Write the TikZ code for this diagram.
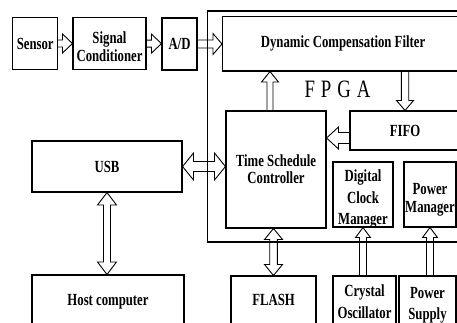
\documentclass[tikz,border=0pt]{standalone}
\usepackage{fontspec}
\setmainfont{Liberation Serif}[FakeStretch=0.75]
\usetikzlibrary{calc}

\tikzset{
  % half widths and head length of the hollow block arrows
  shaftw/.code={\def\hsw{#1}},
  headw/.code={\def\hhw{#1}},
  headl/.code={\def\hhl{#1}},
  frame/.style={draw, line width=1.05pt, inner sep=0pt},
  boxtext/.style={inner sep=0pt, align=center,
    font=\bfseries\fontsize{17}{18}\selectfont},
  % hollow arrow, one head at the target
  blockarrow/.style={draw, line width=0.9pt, line join=miter,
    to path={let \p1=(\tikztostart), \p2=(\tikztotarget),
      \n1={atan2(\y2-\y1,\x2-\x1)} in
      ($(\p1)+(\n1+90:\hsw)$)
      -- ($(\p2)+(\n1+180:\hhl)+(\n1+90:\hsw)$)
      -- ($(\p2)+(\n1+180:\hhl)+(\n1+90:\hhw)$)
      -- (\p2)
      -- ($(\p2)+(\n1+180:\hhl)+(\n1-90:\hhw)$)
      -- ($(\p2)+(\n1+180:\hhl)+(\n1-90:\hsw)$)
      -- ($(\p1)+(\n1-90:\hsw)$)}},
  % hollow arrow, heads at both ends
  dblockarrow/.style={draw, line width=0.9pt, line join=miter,
    to path={let \p1=(\tikztostart), \p2=(\tikztotarget),
      \n1={atan2(\y2-\y1,\x2-\x1)} in
      ($(\p1)+(\n1:\hhl)+(\n1+90:\hsw)$)
      -- ($(\p2)+(\n1+180:\hhl)+(\n1+90:\hsw)$)
      -- ($(\p2)+(\n1+180:\hhl)+(\n1+90:\hhw)$)
      -- (\p2)
      -- ($(\p2)+(\n1+180:\hhl)+(\n1-90:\hhw)$)
      -- ($(\p2)+(\n1+180:\hhl)+(\n1-90:\hsw)$)
      -- ($(\p1)+(\n1:\hhl)+(\n1-90:\hsw)$)
      -- ($(\p1)+(\n1:\hhl)+(\n1-90:\hhw)$)
      -- (\p1)
      -- ($(\p1)+(\n1:\hhl)+(\n1+90:\hhw)$)
      -- cycle}},
}

% \blockbox[text options]{name}{x1}{y1}{x2}{y2}{text drop}{text}
\newcommand\blockbox[8][]{%
  \node[frame, minimum width={(#5-#3)*1pt}, minimum height={(#6-#4)*1pt}]
    (#2) at ({(#3+#5)/2},{(#4+#6)/2}) {};
  \node[boxtext, #1] (#2-text) at ([yshift=-#7pt]#2.center) {#8};}

\begin{document}
\begin{tikzpicture}[x=1pt, y=-1pt, shaftw=3.5pt, headw=9.5pt, headl=10pt]
\useasboundingbox (0,0) rectangle (457,322);
\clip (0,0) rectangle (457,322);

% FPGA outline and its title
\node[frame, minimum width=267.5pt, minimum height=231pt] (fpga) at (341.25,126.5) {};
\node[font=\fontsize{25}{25}\selectfont, anchor=base] (fpgalabel) at (337.5,97)
  {F\hskip6pt P\hskip6pt G\hskip6pt A};

% signal chain
\blockbox{sensor}{12.7}{17.7}{57.7}{69.3}{0}{Sensor}
\blockbox{sc}{73}{17.6}{146}{69.6}{3}{Signal\\Conditioner}
\blockbox{ad}{162}{18}{197}{70}{0}{A/D}

% inside the FPGA
\blockbox{dcf}{222.5}{16.7}{463.5}{71}{0}{Dynamic Compensation Filter}
\blockbox[font=\bfseries\fontsize{17}{17}\selectfont]{tsc}{226}{111}{326}{228}{0}{Time Schedule\\Controller}
\blockbox{fifo}{350}{111}{460}{150}{0}{FIFO}
\blockbox[font=\bfseries\fontsize{17}{21.5}\selectfont]{dcm}{333}{162}{393}{227}{4.5}{Digital\\Clock\\Manager}
\blockbox[font=\bfseries\fontsize{17}{18.5}\selectfont]{pm}{404}{162}{456}{227}{5.5}{Power\\Manager}

% outside devices
\blockbox{usb}{32}{141}{182}{192}{0}{USB}
\blockbox{host}{32}{275}{184}{328}{0}{Host computer}
\blockbox{flash}{231}{276}{316}{324}{0}{FLASH}
\blockbox[font=\bfseries\fontsize{17}{21.5}\selectfont]{crys}{333}{276}{396}{327}{0}{Crystal\\Oscillator}
\blockbox[font=\bfseries\fontsize{17}{21}\selectfont]{psu}{399}{276}{456}{334}{0}{Power\\Supply}

% helper points
\coordinate (tscup) at ([xshift=-6pt]tsc.north);
\coordinate (fifoout) at ([yshift=-7.5pt]fifo.west);

% connectors
\draw[blockarrow] (sensor.east) to (sensor.east -| sc.west);
\draw[blockarrow] (sc.east) to (sc.east -| ad.west);
\draw[blockarrow, shaftw=4pt, headw=10.5pt, headl=9pt] (ad.east) to (ad.east -| dcf.west);
\draw[blockarrow, shaftw=3pt, headw=8.5pt, headl=10.5pt] (tscup) to (tscup |- dcf.south);
\draw[blockarrow, shaftw=3.7pt, headw=8.5pt] (fifo.north |- dcf.south) to (fifo.north);
\draw[blockarrow, shaftw=5.5pt, headw=11pt, headl=12pt] (fifoout) to (fifoout -| tsc.east);
\draw[dblockarrow, shaftw=5pt, headw=13.5pt, headl=11pt] (usb.east) to (usb.east -| tsc.west);
\draw[dblockarrow, headl=12.5pt] (usb.south) to (usb.south |- host.north);
\draw[dblockarrow, shaftw=3.8pt, headw=9pt, headl=11pt] (flash.north) to (flash.north |- tsc.south);
\draw[blockarrow, headw=7.5pt] (dcm.south |- crys.north) to (dcm.south);
\draw[blockarrow, headw=7.5pt] (pm.south |- psu.north) to (pm.south);
\end{tikzpicture}
\end{document}
